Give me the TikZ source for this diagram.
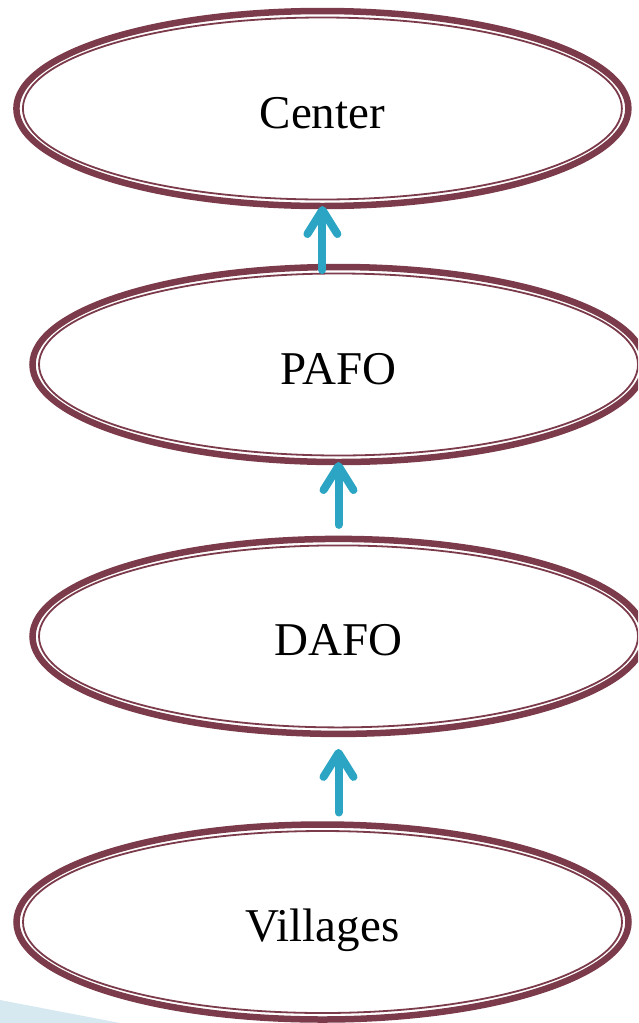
\documentclass[tikz,border=0pt]{standalone}
\usepackage{fontspec}
\setmainfont{Liberation Serif}
\usepackage{xcolor}
\definecolor{colRing}{HTML}{7B3B4B}
\definecolor{colArr}{HTML}{2BA5C3}
\definecolor{colBack}{HTML}{D6E8F0}
\usetikzlibrary{arrows.meta, shapes.geometric}
\tikzset{
	ringbox/.style={ellipse, draw=colRing, line width=6.5pt, minimum width=612pt, minimum height=195pt,
		inner sep=0pt, outer sep=0pt, text height=39pt, text depth=0pt, font=\fontsize{47}{56}\selectfont},
	innerring/.style={draw=colRing, line width=1.8pt},
	uparr/.style={-{Straight Barb[length=24pt, width=30pt, round]}, line width=8pt, line cap=round, draw=colArr},
}

\begin{document}
\begin{tikzpicture}[x=1pt, y=-1pt]
	\path[use as bounding box] (0,0) rectangle (638,1023);
	\clip (0,0) rectangle (638,1023);
	\fill[colBack] (0,1000) -- (120,1023) -- (0,1023) -- cycle;
	\node[ringbox] (ctr) at (322.4,108.5) {Center};
	\node[ringbox] (pafo) at (338.5,364.5) {PAFO};
	\node[ringbox] (dafo) at (338.5,636.4) {DAFO};
	\node[ringbox] (vill) at (322.5,922) {Villages};
	\foreach \n in {ctr, pafo, dafo, vill}
		\draw[innerring] (\n.center) ellipse [x radius=299.5pt, y radius=91pt];
	\draw[uparr, shorten <=-3pt] (pafo.north -| ctr.south) -- (ctr.south);
	\draw[uparr, shorten <=14pt] (dafo.north) -- (pafo.south);
	\draw[uparr, shorten <=12pt, shorten >=15pt] (vill.north -| dafo.south) -- (dafo.south);
\end{tikzpicture}
\end{document}
